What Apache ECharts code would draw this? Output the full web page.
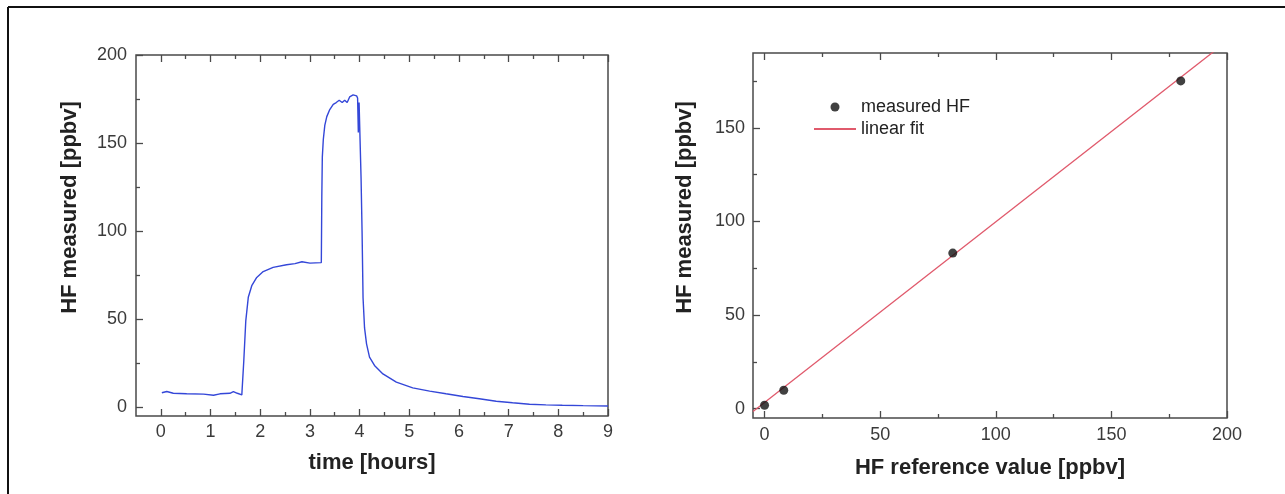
<!DOCTYPE html>
<html>
<head>
<meta charset="utf-8">
<script src="https://cdn.jsdelivr.net/npm/echarts@6/dist/echarts.min.js"></script>
<style>
  html, body { margin: 0; padding: 0; background: #fff; }
  #chart { width: 1285px; height: 494px; }
</style>
</head>
<body>
<div id="chart"></div>
<script>
// HF time series (hours, ppbv)
const timeHours = [0.02, 0.12, 0.25, 0.52, 0.86, 1.06, 1.19, 1.39, 1.46, 1.54, 1.63,
  1.67, 1.71, 1.76, 1.83, 1.93, 2.06, 2.26, 2.53, 2.70, 2.84, 2.88, 3.00, 3.23,
  3.24, 3.25, 3.27, 3.30, 3.34, 3.40, 3.47, 3.53, 3.59, 3.65, 3.70, 3.75, 3.80, 3.87, 3.94, 3.96,
  3.975, 3.99, 4.03, 4.05, 4.07, 4.10, 4.14, 4.20, 4.30, 4.47, 4.74, 5.07, 5.41, 5.74,
  6.08, 6.41, 6.75, 7.08, 7.42, 7.75, 8.08, 8.50, 9.00];
const hfMeasured = [8.2, 8.9, 7.9, 7.6, 7.4, 6.8, 7.6, 7.9, 8.9, 7.9, 7.0,
  26.5, 49.2, 62.4, 69.0, 73.7, 77.0, 79.4, 80.9, 81.5, 82.6, 81.7, 81.8, 82.1,
  120, 142, 152, 160, 165, 169, 172, 173, 174.3, 173, 174.3, 173, 176.2, 177.4, 176.8, 175.6,
  156, 173, 130, 100, 62, 45, 36, 28.4, 23.7, 18.9, 14.2, 11.0, 9.1, 7.6,
  6.1, 4.8, 3.4, 2.5, 1.7, 1.3, 1.1, 0.9, 0.7];

// Calibration points (reference vs measured, ppbv)
const refValue = [0, 8.3, 81.4, 180];
const measuredHF = [1.8, 9.8, 83.1, 175.1];

// Linear fit, drawn between its two end points
const fitX = [-5, 200];
const fitY = [-1.5, 196.3];

// Tick labels / tick positions
const timeMajor = [0, 1, 2, 3, 4, 5, 6, 7, 8, 9];
const timeMinor = [0.5, 1.5, 2.5, 3.5, 4.5, 5.5, 6.5, 7.5, 8.5];
const ppbvMajorLeft = [0, 50, 100, 150, 200];
const ppbvMajorRight = [0, 50, 100, 150];
const refMajor = [0, 50, 100, 150, 200];
const ppbvMinor = [25, 75, 125, 175];

const FONT = "'Liberation Sans', Arial, sans-serif";
const AXIS_COLOR = '#4a4a4a';

function tickStyle(values, len) {
  return { show: true, inside: true, length: len, customValues: values,
           lineStyle: { color: AXIS_COLOR, width: 1.3 } };
}

// One labelled side plus its minor ticks; x axes also get a mirrored tick-only top side.
function axisSet(kind, gridIndex, range, majors, minors, name, nameGap, namePadding, labelMargin) {
  const main = kind === 'x' ? 'bottom' : 'left';
  const base = { type: 'value', gridIndex: gridIndex, min: range[0], max: range[1],
                 splitLine: { show: false }, axisLine: { show: false, onZero: false } };
  const list = [
    Object.assign({}, base, {
      position: main,
      axisTick: tickStyle(majors, 7),
      axisLabel: { show: true, customValues: majors, margin: labelMargin, fontSize: 18,
                   color: '#3a3a3a', fontFamily: FONT },
      name: name, nameLocation: 'middle', nameGap: nameGap,
      nameTextStyle: { fontSize: 22, fontWeight: 'bold', color: '#222', fontFamily: FONT,
                       padding: namePadding }
    }),
    Object.assign({}, base, {
      position: main, axisTick: tickStyle(minors, 4), axisLabel: { show: false }
    })
  ];
  if (kind === 'x') {
    list.push(Object.assign({}, base, {
      position: 'top', axisTick: tickStyle(majors, 7), axisLabel: { show: false }
    }));
    list.push(Object.assign({}, base, {
      position: 'top', axisTick: tickStyle(minors, 4), axisLabel: { show: false }
    }));
  }
  return list;
}

const chart = echarts.init(document.getElementById('chart'), null, { renderer: 'canvas' });

const xAxes = []
  .concat(axisSet('x', 0, [-0.5, 9], timeMajor, timeMinor, 'time [hours]', 36, 0, 7))
  .concat(axisSet('x', 1, [-5, 200], refMajor, ppbvMinor, 'HF reference value [ppbv]', 39, 0, 8));
const yAxes = []
  .concat(axisSet('y', 0, [-5, 200], ppbvMajorLeft, ppbvMinor, 'HF measured [ppbv]', 55, [0, 0, 0, 56], 9))
  .concat(axisSet('y', 1, [-5, 190], ppbvMajorRight, ppbvMinor, 'HF measured [ppbv]', 57, [0, 0, 0, 56], 8));

const option = {
  animation: false,
  backgroundColor: '#ffffff',
  grid: [
    { left: 136, top: 55, width: 472, height: 361, show: true,
      borderColor: AXIS_COLOR, borderWidth: 1.5, backgroundColor: 'transparent' },
    { left: 753, top: 53, width: 474, height: 365, show: true,
      borderColor: AXIS_COLOR, borderWidth: 1.5, backgroundColor: 'transparent' }
  ],
  xAxis: xAxes,
  yAxis: yAxes,
  legend: {
    data: [
      { name: 'measured HF' },
      { name: 'linear fit', itemStyle: { opacity: 0 } }
    ],
    orient: 'vertical',
    left: 813, top: 98, padding: 0,
    itemWidth: 42, itemHeight: 9, itemGap: 4,
    textStyle: { fontSize: 18, color: '#222', fontFamily: FONT }
  },
  graphic: [
    { type: 'line', shape: { x1: 8, y1: 7, x2: 1285, y2: 7 },
      style: { stroke: '#111', lineWidth: 2 } },
    { type: 'line', shape: { x1: 8, y1: 7, x2: 8, y2: 494 },
      style: { stroke: '#111', lineWidth: 2 } }
  ],
  series: [
    {
      name: 'HF time series', type: 'line', xAxisIndex: 0, yAxisIndex: 0,
      data: timeHours.map((t, i) => [t, hfMeasured[i]]),
      showSymbol: false, symbol: 'none',
      lineStyle: { color: '#3447d8', width: 1.4 }
    },
    {
      name: 'measured HF', type: 'scatter', xAxisIndex: 4, yAxisIndex: 2,
      data: refValue.map((r, i) => [r, measuredHF[i]]),
      symbol: 'circle', symbolSize: 9, z: 3,
      itemStyle: { color: '#111' }
    },
    {
      name: 'linear fit', type: 'line', xAxisIndex: 4, yAxisIndex: 2,
      data: fitX.map((x, i) => [x, fitY[i]]),
      symbol: 'none', clip: true,
      lineStyle: { color: '#e05a6c', width: 1.3 },
      itemStyle: { color: '#e05a6c' }
    }
  ]
};

chart.setOption(option);
</script>
</body>
</html>
